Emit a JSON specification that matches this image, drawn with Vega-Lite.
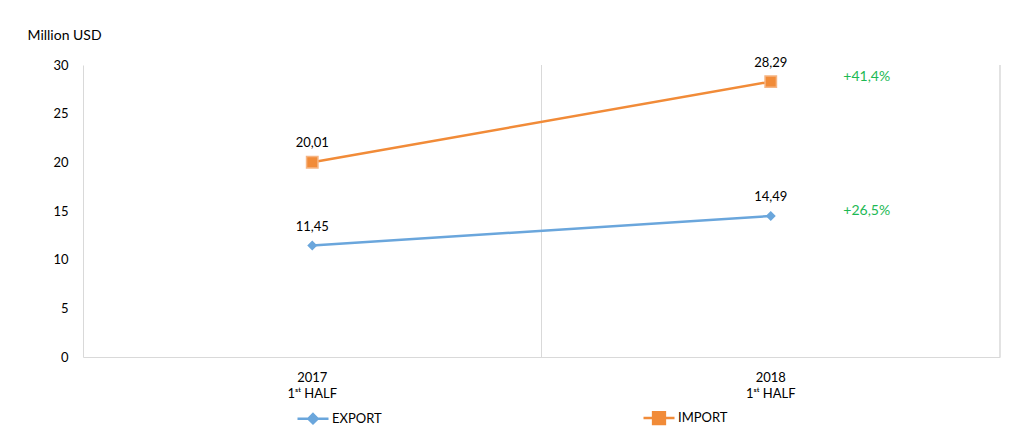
{
  "$schema": "https://vega.github.io/schema/vega-lite/v6.json",
  "autosize": {"type": "none"},
  "width": 917,
  "height": 292,
  "padding": {"left": 83, "top": 65, "right": 12, "bottom": 91},
  "background": "white",
  "config": {
    "view": {"stroke": null},
    "font": "Lato",
    "locale": {"number": {"decimal": ",", "thousands": ".", "grouping": [3], "currency": ["", " €"]}}
  },
  "data": {
    "values": [
      {"period": "2017", "series": "EXPORT", "value": 11.45},
      {"period": "2018", "series": "EXPORT", "value": 14.49, "change": "+26,5%"},
      {"period": "2017", "series": "IMPORT", "value": 20.01},
      {"period": "2018", "series": "IMPORT", "value": 28.29, "change": "+41,4%"}
    ]
  },
  "encoding": {
    "x": {
      "field": "period",
      "type": "nominal",
      "sort": ["2017", "2018"],
      "scale": {"type": "band", "paddingInner": 0, "paddingOuter": 0},
      "axis": {
        "title": null,
        "labelAngle": 0,
        "labelExpr": "[datum.label, '1ˢᵗ HALF']",
        "labelFontSize": 13,
        "labelColor": "#000000",
        "labelLineHeight": 16,
        "labelPadding": 14,
        "ticks": false,
        "domainColor": "#d9d9d9",
        "domainWidth": 1,
        "grid": false
      }
    },
    "y": {
      "field": "value",
      "type": "quantitative",
      "scale": {"domain": [0, 30], "nice": false},
      "axis": {
        "title": "Million USD",
        "titleAngle": 0,
        "titleX": -56,
        "titleY": -30,
        "titleAlign": "left",
        "titleBaseline": "middle",
        "titleFontSize": 14,
        "titleFontWeight": "normal",
        "titleColor": "#000000",
        "values": [0, 5, 10, 15, 20, 25, 30],
        "format": "d",
        "labelFontSize": 13,
        "labelColor": "#000000",
        "labelPadding": 15,
        "ticks": false,
        "grid": false,
        "domainColor": "#d9d9d9",
        "domainWidth": 1
      }
    }
  },
  "layer": [
    {
      "mark": {"type": "rule", "color": "#d9d9d9", "strokeWidth": 1},
      "encoding": {
        "x": {"field": "period", "type": "nominal", "bandPosition": 1},
        "y": null
      }
    },
    {
      "mark": {"type": "line", "strokeWidth": 2.5},
      "encoding": {
        "color": {
          "field": "series",
          "type": "nominal",
          "scale": {"domain": ["EXPORT", "IMPORT"], "range": ["#6AA6DC", "#F18B38"]},
          "legend": {
            "orient": "none",
            "legendX": 213,
            "legendY": 336,
            "direction": "horizontal",
            "title": null,
            "columnPadding": 256,
            "symbolSize": 961,
            "symbolStrokeWidth": 2.5,
            "labelFontSize": 13,
            "labelColor": "#000000",
            "labelOffset": 2,
            "encode": {
              "symbols": {
                "update": {
                  "shape": {"signal": "datum.value === 'EXPORT' ? 'M-1,0L1,0M0,-0.3L0.3,0L0,0.3L-0.3,0Z' : 'M-1,0L1,0M-0.38,-0.38L0.38,-0.38L0.38,0.38L-0.38,0.38Z'"},
                  "fill": {"scale": "color", "field": "value"},
                  "stroke": {"scale": "color", "field": "value"}
                }
              }
            }
          }
        }
      }
    },
    {
      "transform": [{"filter": "datum.series === 'EXPORT'"}],
      "mark": {"type": "point", "shape": "diamond", "filled": true, "size": 100, "color": "#6AA6DC", "opacity": 1}
    },
    {
      "transform": [{"filter": "datum.series === 'IMPORT'"}],
      "mark": {"type": "point", "shape": "square", "filled": true, "size": 130, "fill": "#F18B38", "stroke": "#F6B583", "strokeWidth": 1.5, "opacity": 1}
    },
    {
      "mark": {"type": "text", "fontSize": 13, "color": "#000000", "dy": -19},
      "encoding": {"text": {"field": "value", "type": "quantitative", "format": ".2f"}}
    },
    {
      "transform": [{"filter": "isValid(datum.change)"}],
      "mark": {"type": "text", "fontSize": 14, "color": "#1DB954", "dx": 96, "dy": -5},
      "encoding": {"text": {"field": "change", "type": "nominal"}}
    }
  ]
}
